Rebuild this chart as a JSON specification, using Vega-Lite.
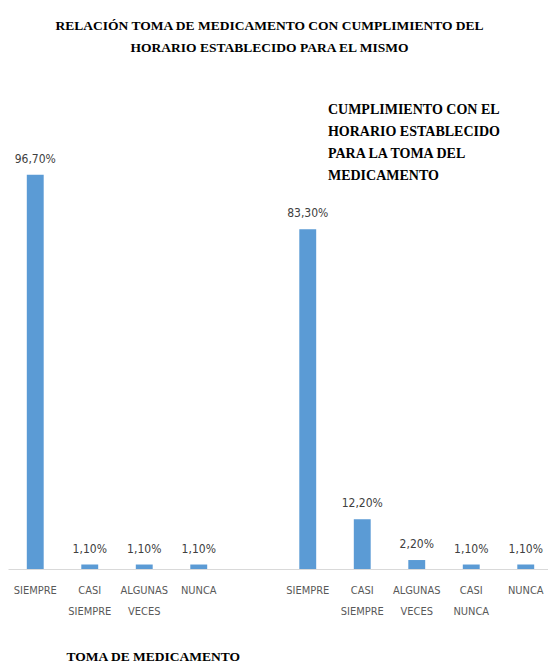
{
  "$schema": "https://vega.github.io/schema/vega-lite/v6.json",
  "autosize": {"type": "none"},
  "width": 545,
  "height": 469,
  "padding": {"left": 8, "top": 100, "right": 0, "bottom": 94},
  "background": "white",
  "config": {
    "view": {"stroke": null},
    "locale": {"number": {"decimal": ",", "thousands": ".", "grouping": [3], "currency": ["", " €"]}}
  },
  "title": {
    "text": ["RELACIÓN TOMA DE MEDICAMENTO CON CUMPLIMIENTO DEL", "HORARIO ESTABLECIDO PARA EL MISMO"],
    "font": "Liberation Serif",
    "fontSize": 13.5,
    "fontWeight": "bold",
    "color": "#000000",
    "lineHeight": 22,
    "anchor": "middle",
    "offset": 46,
    "dx": -11
  },
  "data": {
    "values": [
      {"grupo": "Toma de medicamento", "respuesta": "SIEMPRE", "clave": "a:SIEMPRE", "porcentaje": 0.967},
      {"grupo": "Toma de medicamento", "respuesta": "CASI SIEMPRE", "clave": "a:CASI SIEMPRE", "porcentaje": 0.011},
      {"grupo": "Toma de medicamento", "respuesta": "ALGUNAS VECES", "clave": "a:ALGUNAS VECES", "porcentaje": 0.011},
      {"grupo": "Toma de medicamento", "respuesta": "NUNCA", "clave": "a:NUNCA", "porcentaje": 0.011},
      {"grupo": "Cumplimiento del horario", "respuesta": "SIEMPRE", "clave": "b:SIEMPRE", "porcentaje": 0.833},
      {"grupo": "Cumplimiento del horario", "respuesta": "CASI SIEMPRE", "clave": "b:CASI SIEMPRE", "porcentaje": 0.122},
      {"grupo": "Cumplimiento del horario", "respuesta": "ALGUNAS VECES", "clave": "b:ALGUNAS VECES", "porcentaje": 0.022},
      {"grupo": "Cumplimiento del horario", "respuesta": "CASI NUNCA", "clave": "b:CASI NUNCA", "porcentaje": 0.011},
      {"grupo": "Cumplimiento del horario", "respuesta": "NUNCA", "clave": "b:NUNCA", "porcentaje": 0.011}
    ]
  },
  "layer": [
    {
      "mark": {"type": "bar", "color": "#5B9BD5", "width": {"band": 0.31}},
      "encoding": {
        "x": {
          "field": "clave",
          "type": "nominal",
          "scale": {
            "domain": ["a:SIEMPRE", "a:CASI SIEMPRE", "a:ALGUNAS VECES", "a:NUNCA", "gap", "b:SIEMPRE", "b:CASI SIEMPRE", "b:ALGUNAS VECES", "b:CASI NUNCA", "b:NUNCA"],
            "paddingInner": 0,
            "paddingOuter": 0
          },
          "axis": {
            "title": "TOMA DE MEDICAMENTO",
            "labelAngle": 0,
            "labelExpr": "datum.value == 'gap' ? '' : split(slice(datum.value, 2), ' ')",
            "ticks": false,
            "grid": false,
            "domainColor": "#D9D9D9",
            "labelColor": "#595959",
            "labelFont": "DejaVu Sans Condensed",
            "labelFontSize": 11,
            "labelLineHeight": 21,
            "labelPadding": 15,
            "labelBaseline": "top",
            "titleFont": "Liberation Serif",
            "titleFontSize": 13.5,
            "titleFontWeight": "bold",
            "titleColor": "#000000",
            "titleAnchor": "start",
            "titleAlign": "left",
            "titleBaseline": "alphabetic",
            "titleX": 58,
            "titleY": 91
          }
        },
        "y": {
          "field": "porcentaje",
          "type": "quantitative",
          "scale": {"domain": [0, 1.15], "nice": false},
          "axis": null
        }
      }
    },
    {
      "mark": {
        "type": "text",
        "baseline": "alphabetic",
        "dy": -12,
        "font": "DejaVu Sans Condensed",
        "fontSize": 12,
        "color": "#404040"
      },
      "encoding": {
        "x": {"field": "clave", "type": "nominal"},
        "y": {"field": "porcentaje", "type": "quantitative"},
        "text": {"field": "porcentaje", "type": "quantitative", "format": ".2%"}
      }
    },
    {
      "data": {"values": [{"titulo": "Cumplimiento"}]},
      "mark": {
        "type": "text",
        "align": "left",
        "baseline": "top",
        "dy": 3,
        "font": "Liberation Serif",
        "fontSize": 14,
        "fontWeight": "bold",
        "color": "#000000",
        "lineHeight": 22
      },
      "encoding": {
        "x": {"datum": "b:SIEMPRE", "bandPosition": 0.87},
        "y": {"datum": 1.15},
        "text": {"value": ["CUMPLIMIENTO CON EL", "HORARIO ESTABLECIDO", "PARA LA TOMA DEL", "MEDICAMENTO"]}
      }
    }
  ]
}
